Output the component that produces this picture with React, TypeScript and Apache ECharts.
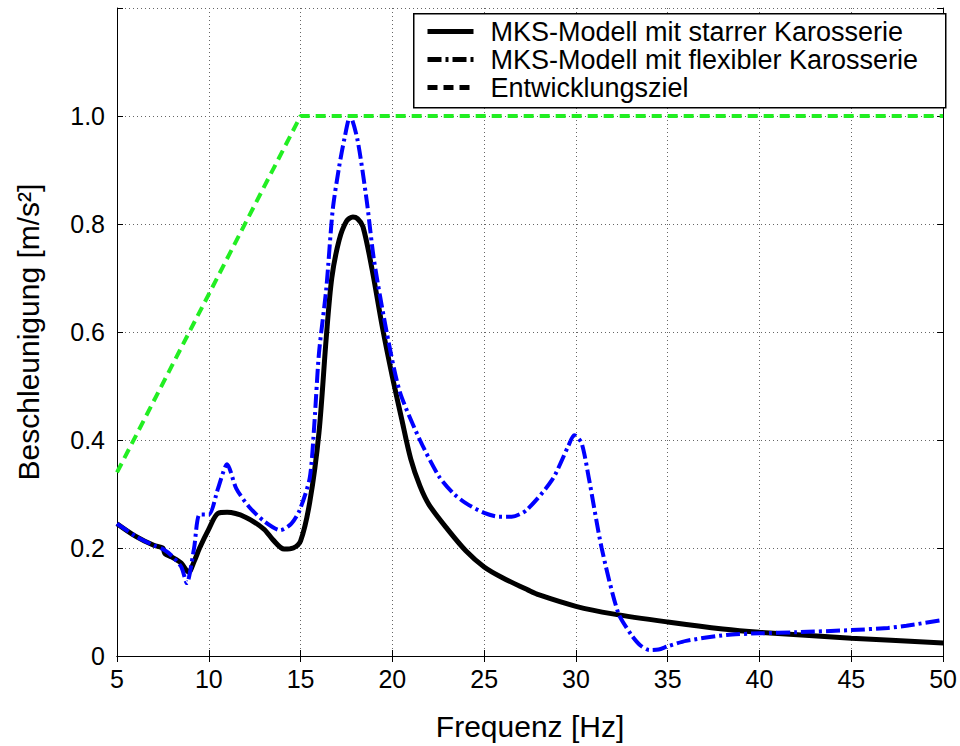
import React, { useEffect, useRef } from "react";
import * as echarts from "echarts";

const rigidX = [5, 6, 7, 7.5, 7.6, 8, 8.5, 8.9, 9.2, 9.5, 10, 10.5, 11, 12, 13, 13.5, 14.1, 14.6, 15, 15.5, 16, 16.4, 16.7, 17.1, 17.5, 17.85, 18.1, 18.4, 18.9, 19.45, 20, 20.5, 21, 21.5, 22, 23, 24, 25, 26, 27.4, 28, 30, 32, 35, 38, 40, 45, 50];
const rigidY = [0.245, 0.222, 0.205, 0.2, 0.19, 0.183, 0.172, 0.155, 0.175, 0.2, 0.235, 0.264, 0.266, 0.257, 0.235, 0.215, 0.198, 0.2, 0.213, 0.285, 0.413, 0.59, 0.7, 0.77, 0.805, 0.813, 0.81, 0.795, 0.715, 0.61, 0.517, 0.44, 0.365, 0.315, 0.28, 0.235, 0.195, 0.165, 0.145, 0.122, 0.113, 0.092, 0.078, 0.063, 0.05, 0.044, 0.033, 0.024];

const flexX = [5, 6, 7, 7.5, 8, 8.5, 8.8, 9.2, 9.5, 10, 10.5, 11, 11.5, 12.2, 13, 13.9, 14.5, 14.95, 15.5, 15.75, 16, 16.4, 16.75, 17.1, 17.4, 17.7, 18.1, 18.6, 19, 19.7, 20.4, 21.5, 22.55, 23.3, 24, 25, 25.8, 26.5, 27.3, 28.7, 29.6, 29.9, 30.3, 30.7, 31.4, 32.3, 33, 33.5, 34, 34.5, 35, 36, 38.2, 40, 42, 45, 47, 48, 50];
const flexY = [0.245, 0.222, 0.205, 0.198, 0.185, 0.165, 0.135, 0.2, 0.262, 0.262, 0.31, 0.355, 0.31, 0.276, 0.25, 0.233, 0.245, 0.27, 0.33, 0.43, 0.56, 0.68, 0.826, 0.906, 0.96, 1.0, 0.956, 0.844, 0.733, 0.598, 0.49, 0.4, 0.332, 0.302, 0.283, 0.265, 0.258, 0.258, 0.27, 0.326, 0.39, 0.409, 0.395, 0.33, 0.2, 0.08, 0.04, 0.02, 0.011, 0.012, 0.018, 0.028, 0.039, 0.042, 0.044, 0.048, 0.052, 0.056, 0.067];

const goalX = [5, 15, 50];
const goalY = [0.34, 1.0, 1.0];

const names = [
  "MKS-Modell mit starrer Karosserie",
  "MKS-Modell mit flexibler Karosserie",
  "Entwicklungsziel",
];

const zip = (xs: number[], ys: number[]) => xs.map((x, i) => [x, ys[i]]);

export default function App() {
  const ref = useRef<HTMLDivElement>(null);
  useEffect(() => {
    if (!ref.current) return;
    const chart = echarts.init(ref.current, null, { renderer: "svg" });
    const font = "'Liberation Sans', Arial, sans-serif";
    const dashDot = [14, 4, 3, 4];
    const dash = [10, 6];
    const hidden = { color: "#000", opacity: 0, borderWidth: 0 };
    chart.setOption({
      animation: false,
      backgroundColor: "#fff",
      textStyle: { fontFamily: font },
      grid: { left: 117, right: 15, top: 8, bottom: 90 },
      graphic: [
        {
          type: "rect",
          left: 413,
          top: 13,
          shape: { width: 532, height: 94 },
          style: { fill: "#fff", stroke: "#000", lineWidth: 1.5 },
          z: 5,
        },
      ],
      legend: {
        orient: "vertical",
        left: 413,
        top: 13,
        padding: [5, 6, 6, 12],
        itemGap: 1,
        itemWidth: 46,
        itemHeight: 14,
        z: 6,
        textStyle: { fontSize: 27, color: "#000", fontFamily: font, lineHeight: 27, padding: [0, 0, 0, 12] },
        data: [
          { name: names[0], lineStyle: { color: "#000", width: 5, type: "solid", opacity: 1 }, itemStyle: hidden },
          { name: names[1], lineStyle: { color: "#000", width: 5, type: dashDot, opacity: 1 }, itemStyle: hidden },
          { name: names[2], lineStyle: { color: "#000", width: 5, type: dash, opacity: 1 }, itemStyle: hidden },
        ],
      },
      xAxis: [
        {
          type: "value",
          min: 5,
          max: 50,
          interval: 5,
          name: "Frequenz [Hz]",
          nameLocation: "middle",
          nameGap: 55,
          nameTextStyle: { fontSize: 30, color: "#000", fontFamily: font },
          axisLine: { show: true, lineStyle: { color: "#000", width: 1 } },
          axisTick: { show: true, inside: true, length: 6, lineStyle: { color: "#000" } },
          axisLabel: { fontSize: 25, color: "#000", margin: 10, fontFamily: font },
          splitLine: { show: true, lineStyle: { color: "#666", type: [1, 3], width: 1 } },
        },
        {
          type: "value",
          position: "top",
          min: 5,
          max: 50,
          interval: 5,
          axisLine: { show: true, lineStyle: { color: "#000", width: 1 } },
          axisTick: { show: true, inside: true, length: 6, lineStyle: { color: "#000" } },
          axisLabel: { show: false },
          splitLine: { show: false },
        },
      ],
      yAxis: [
        {
          type: "value",
          min: 0,
          max: 1.2,
          interval: 0.2,
          name: "Beschleunigung [m/s²]",
          nameLocation: "middle",
          nameGap: 74,
          nameTextStyle: { fontSize: 30, color: "#000", fontFamily: font },
          axisLine: { show: true, lineStyle: { color: "#000", width: 1 } },
          axisTick: { show: true, inside: true, length: 6, lineStyle: { color: "#000" } },
          axisLabel: {
            fontSize: 25,
            color: "#000",
            margin: 12,
            fontFamily: font,
            formatter: (v: number) => (v === 0 ? "0" : v > 1.1 ? "" : v.toFixed(1)),
          },
          splitLine: { show: true, lineStyle: { color: "#666", type: [1, 3], width: 1 } },
        },
        {
          type: "value",
          position: "right",
          min: 0,
          max: 1.2,
          interval: 0.2,
          axisLine: { show: true, lineStyle: { color: "#000", width: 1 } },
          axisTick: { show: true, inside: true, length: 6, lineStyle: { color: "#000" } },
          axisLabel: { show: false },
          splitLine: { show: false },
        },
      ],
      series: [
        {
          name: names[0],
          type: "line",
          data: zip(rigidX, rigidY),
          showSymbol: false,
          symbol: "none",
          smooth: 0.3,
          lineStyle: { color: "#000", width: 5 },
          itemStyle: { color: "#000" },
          z: 3,
        },
        {
          name: names[1],
          type: "line",
          data: zip(flexX, flexY),
          showSymbol: false,
          symbol: "none",
          smooth: 0.25,
          lineStyle: { color: "#0000ff", width: 4, type: dashDot },
          itemStyle: { color: "#0000ff" },
          z: 4,
        },
        {
          name: names[2],
          type: "line",
          data: zip(goalX, goalY),
          showSymbol: false,
          symbol: "none",
          lineStyle: { color: "#22ee22", width: 4, type: dash },
          itemStyle: { color: "#22ee22" },
          z: 4,
        },
      ],
    });
    return () => chart.dispose();
  }, []);
  return <div ref={ref} style={{ width: 960, height: 746, position: "fixed", left: 0, top: 0 }} />;
}
